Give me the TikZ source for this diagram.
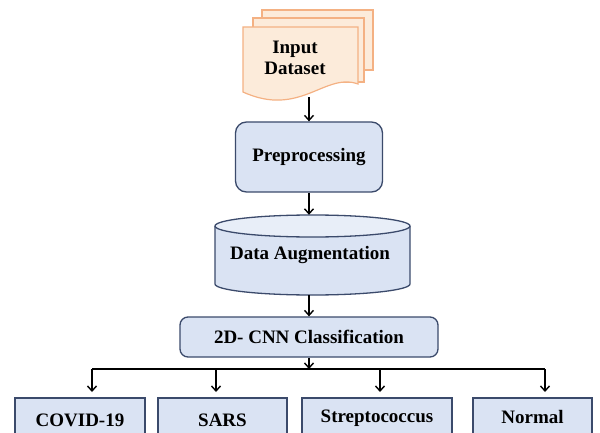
\documentclass[tikz,border=0pt]{standalone}
\usepackage{fontspec}
\setmainfont{Liberation Serif}
\usetikzlibrary{arrows.meta}
\definecolor{boxfill}{HTML}{DAE3F3}
\definecolor{boxtop}{HTML}{E8EEF8}
\definecolor{boxline}{HTML}{3B4A6B}
\definecolor{docfill}{HTML}{FCEBDA}
\definecolor{docline}{HTML}{F4B183}
\tikzset{
  bluebox/.style={draw=boxline, fill=boxfill, line width=1.3pt, font=\bfseries\fontsize{19}{21}\selectfont, inner sep=0pt},
  roundbox/.style={bluebox, rounded corners=11pt},
  sheet/.style={draw=docline, fill=docfill, line width=1.2pt},
  arr/.style={line width=1.4pt, -{Straight Barb[length=5pt,width=9pt,line width=1.4pt]}},
  conn/.style={line width=1.4pt},
  lbl/.style={font=\bfseries\fontsize{19}{21}\selectfont, align=center, inner sep=0pt}
}
\begin{document}
\begin{tikzpicture}[x=1pt,y=-1pt]
\useasboundingbox (0,0) rectangle (600,433);
\clip (0,0) rectangle (600,433);
% document stack
\draw[sheet] (262,10) rectangle (373,70);
\draw[sheet] (253,18) rectangle (364,82);
\draw[sheet] (243,27) -- (358,27) -- (358,84) .. controls (325,72) and (300,118) .. (243,92) -- cycle;
\node[lbl] (doc) at (295,58) {Input\\Dataset};
\coordinate (docout) at (309,97);
% preprocessing
\node[roundbox, minimum width=147pt, minimum height=70pt] (prep) at (309,157) {Preprocessing};
% cylinder
\fill[boxfill] (215,226) -- (215,284) arc[start angle=180, end angle=360, x radius=97.5, y radius=-11] -- (410,226) -- cycle;
\draw[boxline, line width=1.3pt] (215,226) -- (215,284) arc[start angle=180, end angle=360, x radius=97.5, y radius=-11] -- (410,226);
\draw[boxline, fill=boxtop, line width=1.3pt] (312.5,226) ellipse[x radius=97.5, y radius=11];
\node[lbl, minimum width=195pt, minimum height=80pt] (cyl) at (312.5,255) {};
\node[lbl] at (310,255) {Data Augmentation};
% CNN
\node[roundbox, rounded corners=8pt, minimum width=258pt, minimum height=40pt] (cnn) at (309,337) {2D- CNN Classification};
% outputs
\node[bluebox, minimum width=130pt, minimum height=44pt] (c1) at (80,420) {\raisebox{-1pt}{COVID-19}};
\node[bluebox, minimum width=129pt, minimum height=44pt] (c2) at (222.5,420) {\raisebox{-1pt}{SARS}};
\node[bluebox, minimum width=150pt, minimum height=44pt] (c3) at (377,420) {\raisebox{7pt}{Streptococcus}};
\node[bluebox, minimum width=119pt, minimum height=44pt] (c4) at (532.5,420) {\raisebox{7pt}{Normal}};
% connectors
\draw[arr] (docout) -- (prep.north);
\draw[arr] (prep.south) -- (prep.south |- cyl.north);
\draw[arr] (prep.south |- cyl.south) -- (cnn.north);
\coordinate (j) at (309,369);
\coordinate (jl) at (92,369);
\coordinate (jr) at (545,369);
\draw[arr] (cnn.south) -- (j);
\draw[conn] (jl) -- (jr);
\coordinate (t1) at (92,398);
\coordinate (t2) at (216,398);
\coordinate (t3) at (380,398);
\coordinate (t4) at (545,398);
\draw[arr, shorten >=6pt] (jl) -- (t1);
\draw[arr, shorten >=6pt] (jl -| t2) -- (t2);
\draw[arr, shorten >=6pt] (jl -| t3) -- (t3);
\draw[arr, shorten >=6pt] (jr) -- (t4);
\end{tikzpicture}
\end{document}
